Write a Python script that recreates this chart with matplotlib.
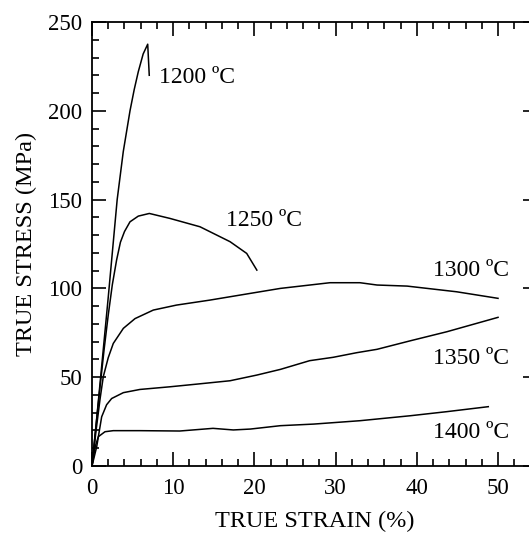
import numpy as np
import matplotlib
matplotlib.use("Agg")
from matplotlib import pyplot as plt
from matplotlib.ticker import MultipleLocator

plt.rcParams['font.family'] = ['Liberation Serif', 'DejaVu Serif']

# curvas tension-deformacion
strain_1200 = [0, 0.5, 1.0, 1.5, 2.0, 2.42, 3.1, 3.85, 4.68, 5.2, 5.7, 6.3, 6.86, 7.05]
stress_1200 = [0, 23, 47, 71, 95, 116, 150, 177, 200, 212, 222, 232, 237.5, 220]

strain_1250 = [0, 0.5, 1.0, 1.5, 2.0, 2.5, 3.03, 3.5, 4.0, 4.68, 5.7, 7.06, 9.6, 13.3, 17.0, 19.05, 20.3]
stress_1250 = [0, 23, 45, 66, 85, 102, 116, 126, 132, 137.5, 140.7, 142.2, 139.4, 134.7, 126.3, 119.7, 110.3]

strain_1300 = [0, 0.5, 1.0, 1.39, 2.0, 2.62, 3.86, 5.3, 7.55, 10.4, 14.5, 19.5, 23.2, 29.3, 33.0, 35.1, 38.8, 44.9, 50.0]
stress_1300 = [0, 20, 38, 50.3, 61, 69, 77.5, 83, 87.8, 90.6, 93.4, 97.2, 100, 103.2, 103.2, 101.9, 101.3, 98.1, 94.4]

strain_1350 = [0, 0.58, 1.19, 1.8, 2.42, 3.86, 5.9, 9.6, 12.9, 17.0, 20.3, 23.2, 26.8, 29.7, 32.6, 35.1, 39.2, 43.7, 50.0]
stress_1350 = [0, 10.9, 27.7, 34.5, 38, 41.3, 43.1, 44.6, 46.1, 48, 51.2, 54.4, 59.3, 61.2, 63.8, 65.7, 70.5, 75.6, 83.7]

strain_1400 = [0, 0.4, 0.78, 1.6, 2.62, 5.9, 10.8, 14.9, 17.4, 19.5, 23.2, 27.3, 33.0, 39.2, 43.7, 48.8]
stress_1400 = [0, 11, 16.5, 19.3, 19.9, 19.9, 19.7, 21.2, 20.3, 20.8, 22.7, 23.6, 25.5, 28.3, 30.6, 33.4]

labels = ['1200 ºC', '1250 ºC', '1300 ºC', '1350 ºC', '1400 ºC']
label_x = [8.25, 16.5, 42.0, 42.0, 42.0]
label_y = [219, 138.5, 110.3, 60.8, 18.6]


def graficar():
    fig = plt.figure(figsize=(5.29, 5.34), dpi=100)
    ax = fig.add_axes([92 / 529, 68 / 534, 445 / 529, 444 / 534])

    curvas = [(strain_1200, stress_1200), (strain_1250, stress_1250),
              (strain_1300, stress_1300), (strain_1350, stress_1350),
              (strain_1400, stress_1400)]
    for x, y in curvas:
        ax.plot(x, y, color='black', lw=1.1)

    for txt, lx, ly in zip(labels, label_x, label_y):
        ax.text(lx, ly, txt, fontsize=17, ha='left', va='center')

    ax.set_xlim(0, 54.8)
    ax.set_ylim(0, 250)
    ax.xaxis.set_major_locator(MultipleLocator(10))
    ax.xaxis.set_minor_locator(MultipleLocator(2))
    ax.yaxis.set_major_locator(MultipleLocator(50))
    ax.yaxis.set_minor_locator(MultipleLocator(10))
    ax.tick_params(which='both', direction='in', top=True, right=True, width=1.2,
                   labelsize=16.5)
    ax.tick_params(axis='x', which='major', pad=9)
    ax.tick_params(axis='y', which='major', pad=7)
    ax.tick_params(which='major', length=10)
    ax.tick_params(which='minor', length=5)
    for s in ax.spines.values():
        s.set_linewidth(1.3)

    ax.set_xlabel('TRUE STRAIN (%)', fontsize=17.5, labelpad=8)
    ax.set_ylabel('TRUE STRESS (MPa)', fontsize=17.5, labelpad=8)

    fig.savefig('out.png', dpi=100)


graficar()
